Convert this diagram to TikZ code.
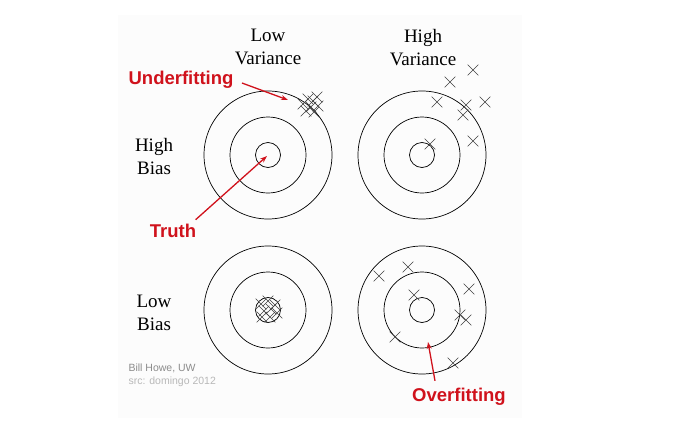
\documentclass[tikz,border=0pt]{standalone}
\usepackage{fontspec}
\setmainfont{Liberation Serif}
\newfontfamily\sansfont{Liberation Sans}
\usetikzlibrary{shapes.misc,arrows.meta}
\definecolor{fitred}{RGB}{208,18,28}
\begin{document}
\begin{tikzpicture}[x=1pt,y=-1pt]
    \useasboundingbox (0,0) rectangle (680,431);
    \fill[white!98.8!black] (118,15) rectangle (522,418);
    % targets
    \begin{scope}[every node/.style={circle,draw,line width=0.7pt,inner sep=0pt}]
    \node[minimum size=128pt] (a1) at (268,155) {};
    \node[minimum size=76pt] (a2) at (268,155) {};
    \node[minimum size=25pt] (a3) at (268,155) {};
    \node[minimum size=128pt] (b1) at (422,155) {};
    \node[minimum size=76pt] (b2) at (422,155) {};
    \node[minimum size=25pt] (b3) at (422,155) {};
    \node[minimum size=128pt] (c1) at (268,310) {};
    \node[minimum size=76pt] (c2) at (268,310) {};
    \node[minimum size=25pt] (c3) at (268,310) {};
    \node[minimum size=128pt] (d1) at (422,310) {};
    \node[minimum size=76pt] (d2) at (422,310) {};
    \node[minimum size=25pt] (d3) at (422,310) {};
    \end{scope}
    % hits
    \begin{scope}[every node/.style={cross out,draw=black!75,line width=0.6pt,minimum size=10pt,inner sep=0pt}]
    \node (a4) at (303,104) {};
    \node (a5) at (308,99) {};
    \node (a6) at (313,101) {};
    \node (a7) at (317,97) {};
    \node (a8) at (311,107) {};
    \node (a9) at (318,106) {};
    \node (a10) at (306,111) {};
    \node (a11) at (314,112) {};
    \node (b4) at (473,70) {};
    \node (b5) at (450,82) {};
    \node (b6) at (437,102) {};
    \node (b7) at (466,105) {};
    \node (b8) at (485,102) {};
    \node (b9) at (463,115) {};
    \node (b10) at (473,141) {};
    \node (b11) at (430,144) {};
    \node (c4) at (261,304) {};
    \node (c5) at (268,301) {};
    \node (c6) at (275,305) {};
    \node (c7) at (264,311) {};
    \node (c8) at (271,309) {};
    \node (c9) at (277,313) {};
    \node (c10) at (262,317) {};
    \node (c11) at (270,317) {};
    \node (d4) at (379,276) {};
    \node (d5) at (408,267) {};
    \node (d6) at (414,295) {};
    \node (d7) at (469,289) {};
    \node (d8) at (460,315) {};
    \node (d9) at (466,320) {};
    \node (d10) at (395,337) {};
    \node (d11) at (453,363) {};
    \end{scope}
    % headings
    \begin{scope}[every node/.style={align=center,font=\fontsize{19}{23}\selectfont}]
    \node (lv) at (268,47) {Low\\Variance};
    \node (hv) at (423,48) {High\\Variance};
    \node (hb) at (154,156) {High\\Bias};
    \node (lb) at (154,313) {Low\\Bias};
    \end{scope}
    \node[anchor=west,align=left,font=\sansfont\fontsize{10.5}{13}\selectfont,text=black!45] (src) at (125,375) {Bill Howe, UW\\\textcolor{black!28}{src: domingo 2012}};
    % callouts
    \begin{scope}[every node/.style={text=fitred,font=\sansfont\bfseries\fontsize{18.5}{22}\selectfont}]
    \node (under) at (181,80) {Underfitting};
    \node (truth) at (173,231) {Truth};
    \node (over) at (459,397) {Overfitting};
    \end{scope}
    \coordinate (ut) at (288,100);
    \coordinate (tt) at (267,156);
    \coordinate (ot) at (428,342);
    \begin{scope}[every edge/.style={draw=fitred,line width=1.3pt,-{Stealth[length=7pt,width=5pt]}}]
    \path (under.east) ++(5,3) edge (ut);
    \path (truth.north east) ++(-4,-1) edge (tt);
    \path (over.north) ++(-24,-4) edge (ot);
    \end{scope}
\end{tikzpicture}
\end{document}
